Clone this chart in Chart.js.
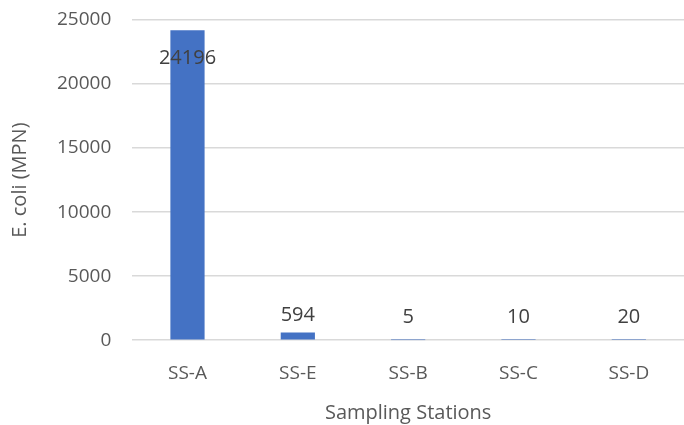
<!DOCTYPE html>
<html lang="en">
<head>
    <meta charset="UTF-8">
    <title>E. coli by Sampling Station</title>
    <script src="https://cdn.jsdelivr.net/npm/chart.js"></script>
    <style>
        html, body { margin: 0; padding: 0; background: #fff; }
        #wrap { width: 684px; height: 425px; }
    </style>
</head>
<body>
    <div id="wrap"><canvas id="myChart"></canvas></div>

    <script>
        const stations = ['SS-A', 'SS-E', 'SS-B', 'SS-C', 'SS-D'];
        const ecoli = [24196, 594, 5, 10, 20];
        const yTicks = [0, 5000, 10000, 15000, 20000, 25000];

        const textColor = '#595959';
        const fontFamily = '"Open Sans", "Liberation Sans", sans-serif';

        // value labels above each bar (inside the top when there is no room)
        const valueLabels = {
            id: 'valueLabels',
            afterDatasetsDraw(chart) {
                const ctx = chart.ctx;
                const meta = chart.getDatasetMeta(0);
                const base = chart.scales.y.getPixelForValue(0);
                ctx.save();
                ctx.font = '20px ' + fontFamily;
                ctx.fillStyle = '#404040';
                ctx.textAlign = 'center';
                ctx.textBaseline = 'middle';
                meta.data.forEach((bar, i) => {
                    let y = Math.min(bar.y - 17, base - 23);
                    if (y - 10 < chart.chartArea.top) y = bar.y + 28;
                    ctx.fillText(String(ecoli[i]), bar.x, y);
                });
                ctx.restore();
            }
        };

        document.addEventListener('DOMContentLoaded', () => {
            const ctx = document.getElementById('myChart').getContext('2d');
            new Chart(ctx, {
                type: 'bar',
                data: {
                    labels: stations,
                    datasets: [{
                        data: ecoli,
                        backgroundColor: '#4472C4',
                        barPercentage: 0.31,
                        categoryPercentage: 1
                    }]
                },
                options: {
                    responsive: true,
                    maintainAspectRatio: false,
                    animation: false,
                    layout: { padding: { top: 20, right: 0, left: 8, bottom: 0 } },
                    plugins: {
                        legend: { display: false },
                        tooltip: { enabled: false }
                    },
                    scales: {
                        x: {
                            grid: { display: false },
                            border: { display: false },
                            ticks: { color: textColor, font: { family: fontFamily, size: 19 }, padding: 14 },
                            title: {
                                display: true,
                                text: 'Sampling Stations',
                                color: textColor,
                                font: { family: fontFamily, size: 20 },
                                padding: { top: 2, bottom: 0 }
                            }
                        },
                        y: {
                            min: 0,
                            max: 25000,
                            afterBuildTicks: (scale) => { scale.ticks = yTicks.map(v => ({ value: v })); },
                            afterFit: (scale) => { scale.paddingTop = 0; },
                            grid: { color: '#d9d9d9', lineWidth: 1.5, drawTicks: false },
                            border: { display: false },
                            ticks: {
                                color: textColor,
                                font: { family: fontFamily, size: 19 },
                                padding: 21,
                                callback: (v) => String(v)
                            },
                            title: {
                                display: true,
                                text: 'E. coli (MPN)',
                                color: textColor,
                                font: { family: fontFamily, size: 20 },
                                padding: { top: 0, bottom: 4 }
                            }
                        }
                    }
                },
                plugins: [valueLabels]
            });
        });
    </script>
</body>
</html>
